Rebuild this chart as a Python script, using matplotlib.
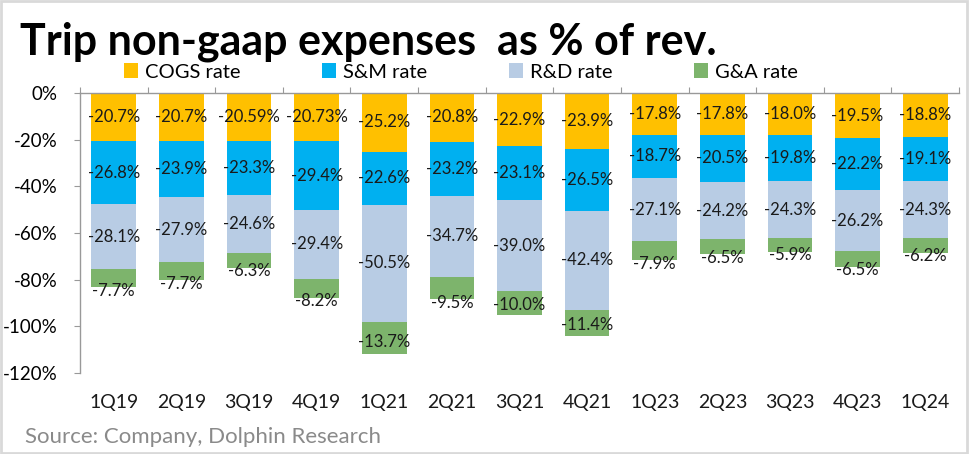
import matplotlib
matplotlib.use("Agg")
import matplotlib.pyplot as plt
import matplotlib.transforms as mtransforms
import numpy as np

plt.rcParams['font.family'] = ['Lato', 'DejaVu Sans']

quarters = ["1Q19", "2Q19", "3Q19", "4Q19", "1Q21", "2Q21", "3Q21", "4Q21",
            "1Q23", "2Q23", "3Q23", "4Q23", "1Q24"]
cogs = [-20.7, -20.7, -20.59, -20.73, -25.2, -20.8, -22.9, -23.9, -17.8, -17.8, -18.0, -19.5, -18.8]
sm = [-26.8, -23.9, -23.3, -29.4, -22.6, -23.2, -23.1, -26.5, -18.7, -20.5, -19.8, -22.2, -19.1]
rd = [-28.1, -27.9, -24.6, -29.4, -50.5, -34.7, -39.0, -42.4, -27.1, -24.2, -24.3, -26.2, -24.3]
ga = [-7.7, -7.7, -6.3, -8.2, -13.7, -9.5, -10.0, -11.4, -7.9, -6.5, -5.9, -6.5, -6.2]
cogs_labels = ["-20.7%", "-20.7%", "-20.59%", "-20.73%", "-25.2%", "-20.8%", "-22.9%", "-23.9%",
               "-17.8%", "-17.8%", "-18.0%", "-19.5%", "-18.8%"]
series_names = ["COGS rate", "S&M rate", "R&D rate", "G&A rate"]
colors = ["#FFC000", "#00B0F0", "#B8CCE4", "#7DB46C"]
yticks = [0, -20, -40, -60, -80, -100, -120]

W, H = 969, 454
fig = plt.figure(figsize=(W / 100, H / 100), dpi=100)
fig.patch.set_facecolor("white")
ax = fig.add_axes([80 / W, (H - 373) / H, (959 - 80) / W, 280 / H])

x = np.arange(len(quarters))
series = [np.array(cogs), np.array(sm), np.array(rd), np.array(ga)]
bottom = np.zeros(len(quarters))
bars = []
for vals, c, name in zip(series, colors, series_names):
    b = ax.bar(x, vals, width=0.66, bottom=bottom, color=c, label=name, zorder=2)
    bars.append((b, bottom.copy(), vals))
    bottom = bottom + vals

lblsize = 12
for k, (b, bot, vals) in enumerate(bars):
    for i in range(len(quarters)):
        if k == 3:
            end = bot[i] + vals[i]
            if end < -90:
                yy = end - vals[i] * 0.4
            else:
                yy = end - 1.6
        else:
            yy = bot[i] + vals[i] / 2
        txt = cogs_labels[i] if k == 0 else f"{vals[i]:.1f}%"
        ax.text(x[i], yy, txt, ha="center", va="center", fontsize=lblsize,
                color="#1a1a1a", zorder=3)

ax.set_xlim(-0.5, len(quarters) - 0.5)
ax.set_ylim(-120, 0)
ax.set_yticks(yticks)
ax.set_yticklabels([f"{t}%" for t in yticks], fontsize=13.5)
ax.tick_params(axis="y", length=4, color="#999999", pad=12)

# x axis at top (0 line) with boundary ticks
ax.xaxis.set_ticks_position("top")
ax.set_xticks(np.arange(len(quarters) + 1) - 0.5)
ax.set_xticklabels([])
ax.tick_params(axis="x", length=4, color="#999999", direction="out")
for s in ["right", "bottom"]:
    ax.spines[s].set_visible(False)
for s in ["left", "top"]:
    ax.spines[s].set_color("#999999")
    ax.spines[s].set_linewidth(1)

trans = mtransforms.blended_transform_factory(ax.transData, ax.transAxes)
for i, q in enumerate(quarters):
    ax.text(x[i], -0.107, q, transform=trans, ha="center", va="center", fontsize=14,
            color="#1a1a1a")

fig.text(20 / W, 1 - 42 / H, "Trip non-gaap expenses  as % of rev.", fontsize=31,
         fontweight="bold", ha="left", va="center", color="black")

handles = [b for b, _, _ in bars]
fig.legend(handles, series_names, loc="center left", bbox_to_anchor=(124 / W, 1 - 72 / H),
           ncol=4, frameon=False, fontsize=14.5, handlelength=0.7, handleheight=0.7,
           columnspacing=4.05, handletextpad=0.35, borderaxespad=0, borderpad=0)

fig.text(25 / W, 1 - 437 / H, "Source: Company, Dolphin Research", fontsize=16,
         ha="left", va="center", color="#8a8a8a")

fig.add_artist(plt.Rectangle((0.001, 0.002), 0.997, 0.995, transform=fig.transFigure,
                             fill=False, edgecolor="#d9d9d9", linewidth=2))

fig.savefig("out.png", dpi=100)
